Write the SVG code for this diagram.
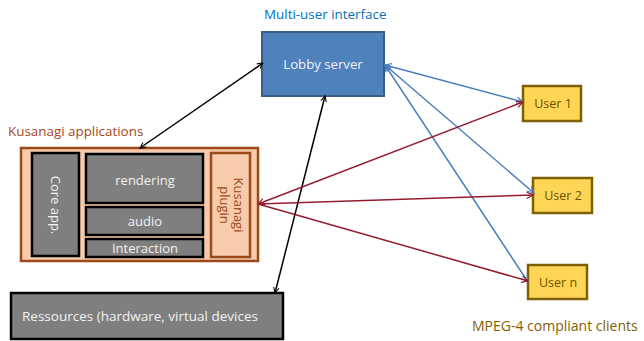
<svg xmlns="http://www.w3.org/2000/svg" width="644" height="341" viewBox="0 0 644 341">
<style>
text{font-family:"Open Sans","Liberation Sans",sans-serif;}
.gray{fill:#7F7F7F;stroke:#000;stroke-width:2.5;}
.wt{fill:#F2F2F2;font-size:13px;text-anchor:middle;}
.user{fill:#FFD556;stroke:#7F6000;stroke-width:2.5;}
.ut{fill:#6B5300;font-size:12.5px;text-anchor:middle;}
.blk{stroke:#000;stroke-width:1.5;fill:none;}
.blu{stroke:#4A7EBB;stroke-width:1.5;fill:none;}
.red{stroke:#951B30;stroke-width:1.5;fill:none;}
</style>
<defs>
<marker id="hb" viewBox="0 0 10 10" refX="9" refY="5" markerWidth="7" markerHeight="7" orient="auto-start-reverse" markerUnits="userSpaceOnUse"><path d="M1,1 L9,5 L1,9" fill="none" stroke="#000" stroke-width="1.5"/></marker>
<marker id="hu" viewBox="0 0 10 10" refX="9" refY="5" markerWidth="8" markerHeight="8" orient="auto-start-reverse" markerUnits="userSpaceOnUse"><path d="M1,1 L9,5 L1,9" fill="none" stroke="#4A7EBB" stroke-width="1.5"/></marker>
<marker id="hr" viewBox="0 0 10 10" refX="9" refY="5" markerWidth="8" markerHeight="8" orient="auto-start-reverse" markerUnits="userSpaceOnUse"><path d="M1,1 L9,5 L1,9" fill="none" stroke="#951B30" stroke-width="1.5"/></marker>
</defs>
<text x="264" y="19" fill="#0070C0" font-size="13.4">Multi-user interface</text>
<text x="8" y="136" fill="#A5481A" font-size="13.4">Kusanagi applications</text>
<text x="472" y="331" fill="#7F6000" font-size="14">MPEG-4 compliant clients</text>
<g id="lobby">
<rect x="262" y="32" width="122" height="64" fill="#4F81BD" stroke="#385D8A" stroke-width="2"/>
<text x="323" y="69" fill="#F2F2F2" font-size="13.2" text-anchor="middle">Lobby server</text>
</g>
<g id="kusanagi">
<rect x="21" y="148" width="237" height="113" fill="#F8CBAD" stroke="#9C4A1A" stroke-width="2.5"/>
</g>
<g id="core">
<rect class="gray" x="32" y="153" width="47" height="103"/>
<text class="wt" transform="translate(51,205) rotate(90)">Core app.</text>
</g>
<g id="rendering">
<rect class="gray" x="86" y="154" width="117" height="49"/>
<text class="wt" x="145" y="185">rendering</text>
</g>
<g id="audio">
<rect class="gray" x="86" y="207" width="117" height="28"/>
<text class="wt" x="145" y="226">audio</text>
</g>
<g id="interaction">
<rect class="gray" x="86" y="239" width="117" height="18"/>
<text class="wt" x="145" y="252.5">Interaction</text>
</g>
<g id="plugin">
<rect x="211" y="153" width="39" height="104" fill="#F8CBAD" stroke="#9C4A1A" stroke-width="2.5"/>
<text fill="#9C4A1A" font-size="13" text-anchor="middle" transform="translate(234,205) rotate(90)">Kusanagi</text>
<text fill="#9C4A1A" font-size="13" text-anchor="middle" transform="translate(220,205) rotate(90)">plugin</text>
</g>
<g id="resources">
<rect class="gray" x="11" y="293" width="272" height="46"/>
<text x="22" y="321" fill="#F2F2F2" font-size="13.5">Ressources (hardware, virtual devices</text>
</g>
<g id="user1">
<rect class="user" x="523" y="86" width="58" height="35"/>
<text class="ut" x="553" y="108">User 1</text>
</g>
<g id="user2">
<rect class="user" x="533" y="178" width="59" height="35"/>
<text class="ut" x="563" y="200">User 2</text>
</g>
<g id="usern">
<rect class="user" x="528" y="265" width="59" height="34"/>
<text class="ut" x="558" y="287">User n</text>
</g>
<g id="connectors">
<line class="blk" x1="140" y1="148" x2="263" y2="63" marker-start="url(#hb)" marker-end="url(#hb)"/>
<line class="blk" x1="325" y1="96" x2="275" y2="293" marker-start="url(#hb)" marker-end="url(#hb)"/>
<line class="blu" x1="385" y1="65" x2="523" y2="102" marker-start="url(#hu)" marker-end="url(#hu)"/>
<line class="blu" x1="385" y1="65" x2="534" y2="193" marker-start="url(#hu)" marker-end="url(#hu)"/>
<line class="blu" x1="385" y1="65" x2="528" y2="282" marker-start="url(#hu)" marker-end="url(#hu)"/>
<line class="red" x1="258" y1="204" x2="523" y2="102" marker-start="url(#hr)" marker-end="url(#hr)"/>
<line class="red" x1="258" y1="204" x2="533" y2="195" marker-end="url(#hr)"/>
<line class="red" x1="258" y1="204" x2="528" y2="281" marker-end="url(#hr)"/>
</g>
</svg>
